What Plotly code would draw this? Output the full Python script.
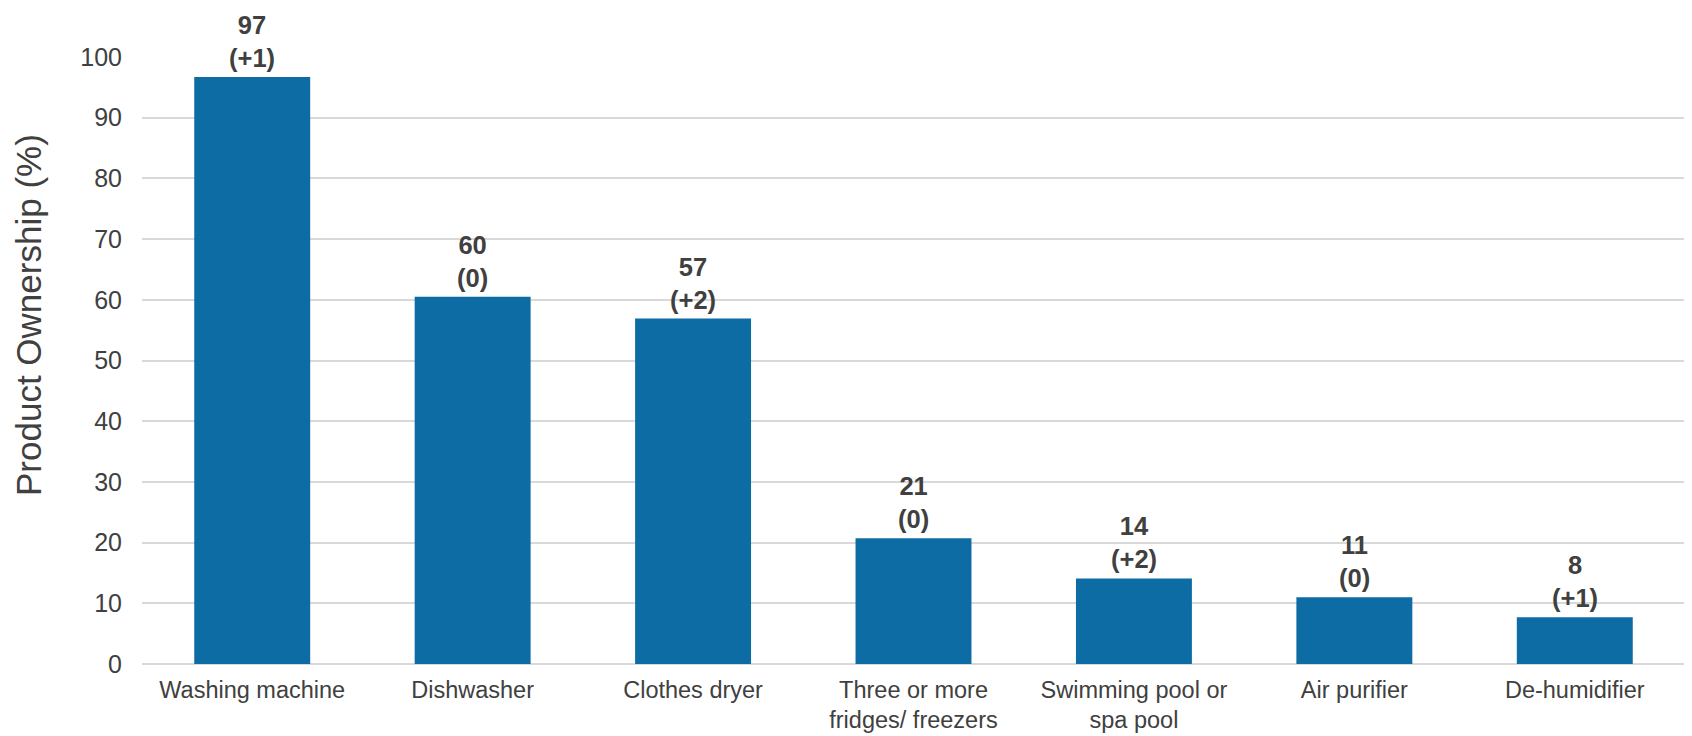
import plotly.graph_objects as go

categories = ["Washing machine", "Dishwasher", "Clothes dryer",
              "Three or more<br>fridges/ freezers", "Swimming pool or<br>spa pool",
              "Air purifier", "De-humidifier"]
ownership = [96.7, 60.5, 56.9, 20.7, 14.1, 11.0, 7.7]
value_labels = ["97", "60", "57", "21", "14", "11", "8"]
change_labels = ["(+1)", "(0)", "(+2)", "(0)", "(+2)", "(0)", "(+1)"]
y_ticks = [0, 10, 20, 30, 40, 50, 60, 70, 80, 90, 100]
y_title = "Product Ownership (%)"

BAR = "#0E6CA5"
TXT = "#404040"
FONT = "Liberation Sans, Arial, sans-serif"

fig = go.Figure()
fig.add_trace(go.Bar(x=categories, y=ownership, marker_color=BAR,
                     marker_line_width=0, hoverinfo="skip"))

for c, v, a, b in zip(categories, ownership, value_labels, change_labels):
    fig.add_annotation(x=c, y=v, text=f"<b>{a}</b><br><b>{b}</b>",
                       showarrow=False, yanchor="bottom", yshift=4, borderpad=0,
                       font=dict(family=FONT, size=25.5, color=TXT))

fig.add_annotation(xref="paper", yref="paper", x=0, y=0.575, xanchor="center",
                   yanchor="middle", xshift=-113, textangle=-90, showarrow=False,
                   text=y_title, font=dict(family=FONT, size=35, color=TXT))

fig.update_layout(
    width=1692, height=736,
    margin=dict(l=134, r=15, t=49, b=80),
    plot_bgcolor="white", paper_bgcolor="white",
    bargap=0.474, showlegend=False,
    font=dict(family=FONT, color=TXT),
)
fig.update_xaxes(showgrid=False, showline=False, ticks="", automargin=False,
                 ticklabelstandoff=9,
                 tickfont=dict(family=FONT, size=23.5, color=TXT))
fig.update_yaxes(range=[0, 100], tickvals=y_ticks, showgrid=True, automargin=False,
                 gridcolor="#D9D9D9", gridwidth=1.5, zeroline=True,
                 zerolinecolor="#D9D9D9", zerolinewidth=1.5, showline=False,
                 tickfont=dict(family=FONT, size=25, color=TXT), ticks="",
                 ticklabelstandoff=19)

fig.write_html("out.html")
